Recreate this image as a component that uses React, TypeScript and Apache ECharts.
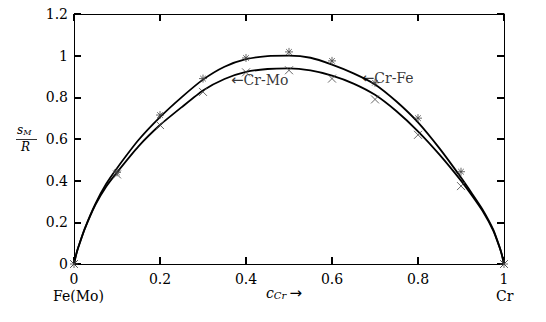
import React, { useEffect, useRef } from "react";
import * as echarts from "echarts";

const cGrid = [0, 0.005, 0.01, 0.025, 0.05, 0.075, 0.1, 0.15, 0.2, 0.25, 0.3, 0.35, 0.4, 0.45, 0.5, 0.55, 0.6, 0.65, 0.7, 0.75, 0.8, 0.85, 0.9, 0.925, 0.95, 0.975, 0.99, 0.995, 1];
const crFeCurve = [0, 0.045, 0.08, 0.17, 0.29, 0.385, 0.46, 0.595, 0.705, 0.8, 0.885, 0.947, 0.983, 0.998, 1.0, 0.99, 0.957, 0.915, 0.862, 0.78, 0.68, 0.555, 0.415, 0.34, 0.262, 0.165, 0.08, 0.045, 0];
const crMoCurve = [0, 0.045, 0.08, 0.168, 0.285, 0.372, 0.44, 0.565, 0.667, 0.752, 0.833, 0.888, 0.922, 0.936, 0.939, 0.929, 0.904, 0.866, 0.812, 0.733, 0.637, 0.525, 0.4, 0.33, 0.255, 0.16, 0.078, 0.044, 0];

const sampleC = [0, 0.1, 0.2, 0.3, 0.4, 0.5, 0.6, 0.7, 0.8, 0.9, 1];
const crFeData = [0, 0.44, 0.715, 0.89, 0.989, 1.018, 0.975, 0.87, 0.7, 0.443, 0];
const crMoData = [0, 0.43, 0.667, 0.826, 0.92, 0.93, 0.89, 0.79, 0.62, 0.374, 0];

const xTicks = ["0", "0.2", "0.4", "0.6", "0.8", "1"];
const yTicks = ["0", "0.2", "0.4", "0.6", "0.8", "1", "1.2"];

const FONT = "DejaVu Serif";
const STAR = "path://M5,0L5,10M0,5L10,5M1.5,1.5L8.5,8.5M8.5,1.5L1.5,8.5";
const CROSS = "path://M0,0L10,10M10,0L0,10";

const mkLine = () => ({ show: true, onZero: false, lineStyle: { color: "#000", width: 1 } });
const mkTick = () => ({ show: true, inside: true, length: 7, lineStyle: { color: "#000", width: 2 } });

export default function App() {
  const ref = useRef<HTMLDivElement>(null);
  useEffect(() => {
    const chart = echarts.init(ref.current!, null, { renderer: "svg" });
    chart.setOption({
      animation: false,
      backgroundColor: "#fff",
      grid: { left: 74, right: 42, top: 14, bottom: 58 },
      xAxis: [
        {
          type: "value", min: 0, max: 1, interval: 0.2, position: "bottom",
          axisLine: mkLine(), axisTick: mkTick(), splitLine: { show: false },
          axisLabel: {
            color: "#000", fontFamily: FONT, fontSize: 14, margin: 8,
            formatter: (v: number) => xTicks[Math.round(v / 0.2)],
          },
        },
        {
          type: "value", min: 0, max: 1, interval: 0.2, position: "top",
          axisLine: mkLine(), axisTick: mkTick(), splitLine: { show: false },
          axisLabel: { show: false },
        },
      ],
      yAxis: [
        {
          type: "value", min: 0, max: 1.2, interval: 0.2, position: "left",
          axisLine: mkLine(), axisTick: mkTick(), splitLine: { show: false },
          axisLabel: {
            color: "#000", fontFamily: FONT, fontSize: 14, margin: 6,
            formatter: (v: number) => yTicks[Math.round(v / 0.2)],
          },
        },
        {
          type: "value", min: 0, max: 1.2, interval: 0.2, position: "right",
          axisLine: mkLine(), axisTick: mkTick(), splitLine: { show: false },
          axisLabel: { show: false },
        },
      ],
      series: [
        {
          type: "line",
          data: cGrid.map((c, i) => [c, crFeCurve[i]]),
          smooth: 0.2,
          showSymbol: false,
          lineStyle: { color: "#000", width: 1.8 },
        },
        {
          type: "line",
          data: cGrid.map((c, i) => [c, crMoCurve[i]]),
          smooth: 0.2,
          showSymbol: false,
          lineStyle: { color: "#000", width: 1.8 },
        },
        {
          type: "scatter",
          data: sampleC.map((c, i) => [c, crFeData[i]]),
          symbol: STAR,
          symbolSize: 8,
          itemStyle: { color: "none", borderColor: "#444", borderWidth: 1 },
          z: 5,
        },
        {
          type: "scatter",
          data: sampleC.map((c, i) => [c, crMoData[i]]),
          symbol: CROSS,
          symbolSize: 8,
          itemStyle: { color: "none", borderColor: "#444", borderWidth: 1 },
          z: 5,
        },
        {
          type: "scatter",
          data: [
            { value: [0.365, 0.885], label: { formatter: "{a|←}{t|Cr-Mo}" } },
            { value: [0.669, 0.895], label: { formatter: "{a|←}{t|Cr-Fe}" } },
          ],
          symbolSize: 0,
          label: {
            show: true, position: "right", distance: 0,
            rich: {
              a: { fontFamily: "DejaVu Sans", fontSize: 15, color: "#000" },
              t: { fontFamily: FONT, fontSize: 14, color: "#000" },
            },
          },
          z: 6,
        },
      ],
      graphic: [
        {
          type: "text", left: 53, top: 289,
          style: { text: "Fe(Mo)", fill: "#000", fontFamily: FONT, fontSize: 14 },
        },
        {
          type: "text", left: 496, top: 289,
          style: { text: "Cr", fill: "#000", fontFamily: FONT, fontSize: 14 },
        },
        {
          type: "text", left: 266, top: 285,
          style: {
            text: "{c|c}{s|Cr} {a|→}",
            rich: {
              c: { fontFamily: FONT, fontStyle: "italic", fontSize: 14, fill: "#000" },
              s: { fontFamily: FONT, fontStyle: "italic", fontSize: 10, fill: "#000", padding: [6, 0, 0, 0] },
              a: { fontFamily: "DejaVu Sans", fontSize: 15, fill: "#000" },
            },
          },
        },
        {
          type: "text", left: 17, top: 124,
          style: {
            text: "{c|s}{s|M}",
            rich: {
              c: { fontFamily: FONT, fontStyle: "italic", fontSize: 12, fill: "#000" },
              s: { fontFamily: FONT, fontStyle: "italic", fontSize: 8, fill: "#000", padding: [5, 0, 0, 0] },
            },
          },
        },
        {
          type: "line", shape: { x1: 16, y1: 139.5, x2: 37, y2: 139.5 },
          style: { stroke: "#000", lineWidth: 0.8 },
        },
        {
          type: "text", left: 21, top: 141,
          style: { text: "R", fill: "#000", fontFamily: FONT, fontStyle: "italic", fontSize: 12 },
        },
      ],
    });
    return () => chart.dispose();
  }, []);
  return <div ref={ref} style={{ position: "fixed", left: 0, top: 0, width: 546, height: 322 }} />;
}
